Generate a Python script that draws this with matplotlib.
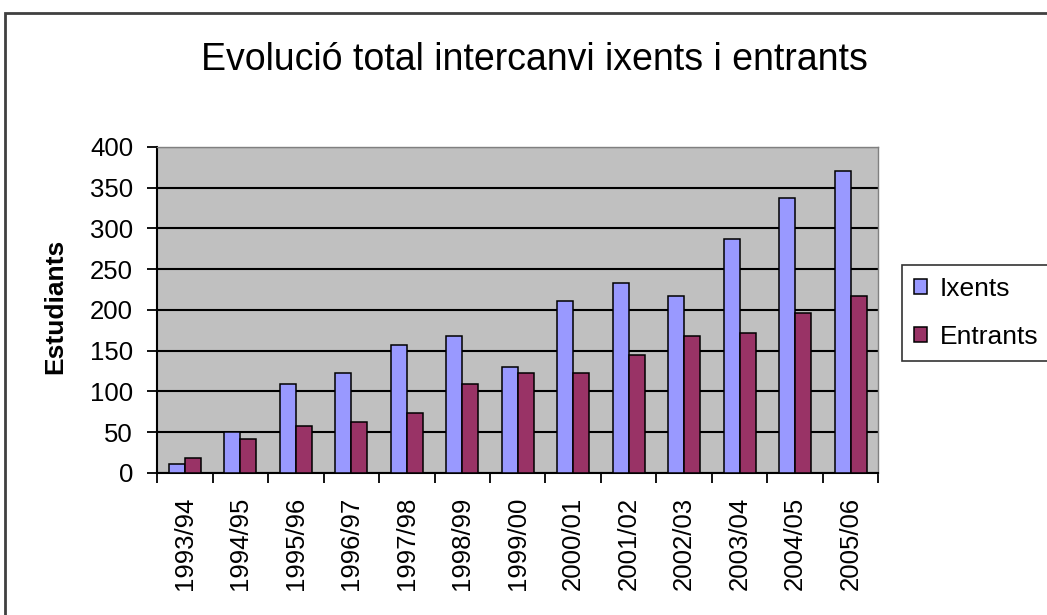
import numpy as np
import matplotlib.pyplot as plt
from matplotlib.patches import Rectangle

cursos = ["1993/94", "1994/95", "1995/96", "1996/97", "1997/98", "1998/99", "1999/00",
          "2000/01", "2001/02", "2002/03", "2003/04", "2004/05", "2005/06"]
ixents = [11, 50, 109, 123, 157, 168, 130, 211, 233, 217, 287, 337, 370]
entrants = [18, 42, 58, 63, 74, 109, 123, 123, 145, 168, 172, 196, 217]

plt.rcParams['font.family'] = ['Liberation Sans', 'DejaVu Sans']

fig = plt.figure(figsize=(10.47, 6.15), dpi=100)
ax = fig.add_axes([0.150, 0.231, 0.689, 0.530])

x = np.arange(len(cursos))
w = 1 / 3.5
b1 = ax.bar(x - w / 2, ixents, w, color="#9999FF", edgecolor="black", linewidth=1.1,
            label="Ixents", zorder=3)
b2 = ax.bar(x + w / 2, entrants, w, color="#993366", edgecolor="black", linewidth=1.1,
            label="Entrants", zorder=3)

ax.set_facecolor("#C0C0C0")
ax.set_xlim(-0.5, len(cursos) - 0.5)
ax.set_ylim(0, 400)
ax.set_yticks(range(0, 401, 50))
ax.yaxis.grid(True, color="black", linewidth=1.5, zorder=1)
ax.set_axisbelow(True)

# category ticks at boundaries, labels at centres
ax.set_xticks(np.arange(-0.5, len(cursos), 1))
ax.set_xticklabels([])
ax.set_xticks(x, minor=True)
ax.set_xticklabels(cursos, minor=True, rotation=90, fontsize=18.5)
ax.tick_params(axis="x", which="minor", length=0, pad=17)
ax.tick_params(axis="x", which="major", length=7.2, width=1.3, direction="out")
ax.tick_params(axis="y", length=7.2, width=1.3, labelsize=18.5, pad=10)

for s in ["top", "right"]:
    ax.spines[s].set_color("#808080")
    ax.spines[s].set_linewidth(1)
for s in ["left", "bottom"]:
    ax.spines[s].set_linewidth(1.5)

fig.text(55.5 / 1047, 0.5016, "Estudiants", rotation=90, ha="center", va="center",
         fontsize=19, fontweight="bold")
fig.text(534 / 1047, 1 - 70 / 615, "Evolució total intercanvi ixents i entrants", ha="center",
         va="baseline", fontsize=27)

leg = fig.legend(handles=[b1, b2], loc="upper left",
                 bbox_to_anchor=(902 / 1047, 1 - 265 / 615),
                 fontsize=19, frameon=True, fancybox=False, shadow=False,
                 handlelength=0.48, handleheight=0.48, handletextpad=0.5,
                 borderpad=0.45, labelspacing=0.9, borderaxespad=0)
leg.get_frame().set_edgecolor("black")
leg.get_frame().set_linewidth(1.2)
for h in leg.legend_handles:
    h.set_linewidth(1.1)

fig.patches.append(Rectangle((5 / 1047, -0.1), 1.2, 1.1 - 13 / 615, transform=fig.transFigure,
                             fill=False, edgecolor="#404040", linewidth=2))

fig.savefig("out.png", dpi=100)
